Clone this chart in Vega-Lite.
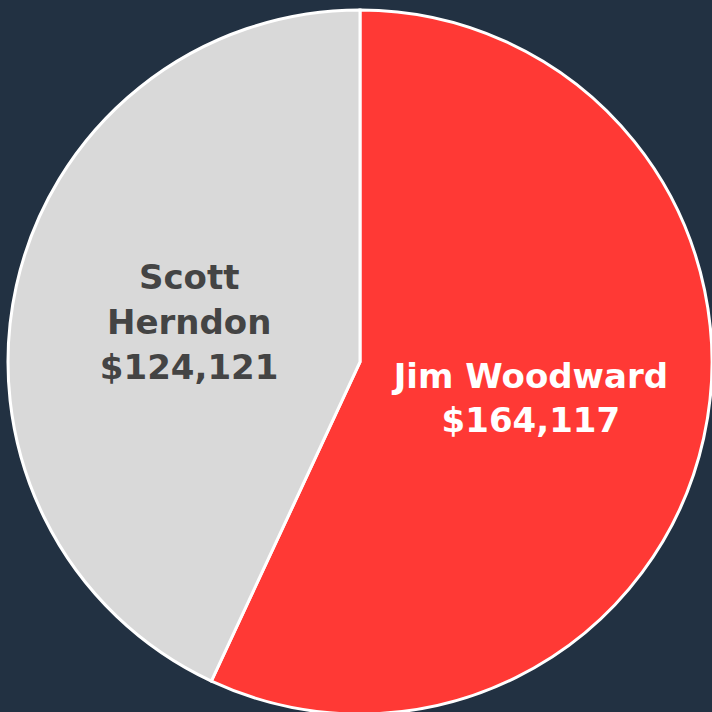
{
  "$schema": "https://vega.github.io/schema/vega-lite/v6.json",
  "width": 704,
  "height": 704,
  "autosize": {"type": "none"},
  "padding": {"left": 8, "top": 10, "right": 0, "bottom": 0},
  "background": "#223142",
  "config": {"view": {"stroke": null}},
  "data": {"values": [
    {"name": "Jim Woodward", "amount": 164117, "label": "Jim Woodward\n$164,117"},
    {"name": "Scott Herndon", "amount": 124121, "label": "Scott\nHerndon\n$124,121"}
  ]},
  "encoding": {
    "theta": {"field": "amount", "type": "quantitative", "stack": true},
    "order": {"field": "name", "sort": "ascending"}
  },
  "layer": [
    {
      "mark": {"type": "arc", "outerRadius": 352, "stroke": "#ffffff", "strokeWidth": 3},
      "encoding": {
        "color": {"field": "name", "type": "nominal", "scale": {"domain": ["Jim Woodward", "Scott Herndon"], "range": ["#ff3935", "#d9d9d9"]}, "legend": null}
      }
    },
    {
      "mark": {"type": "text", "radius": 175, "dy": -22, "font": "DejaVu Sans", "fontWeight": "bold", "fontSize": 34, "lineBreak": "\n", "lineHeight": 44, "align": "center", "baseline": "middle", "color": "#ffffff"},
      "encoding": {
        "text": {"condition": {"test": "datum.name === 'Jim Woodward'", "field": "label"}, "value": ""}
      }
    },
    {
      "mark": {"type": "text", "radius": 175, "dy": -45, "font": "DejaVu Sans", "fontWeight": "bold", "fontSize": 34, "lineBreak": "\n", "lineHeight": 45, "align": "center", "baseline": "middle", "color": "#444444"},
      "encoding": {
        "text": {"condition": {"test": "datum.name === 'Scott Herndon'", "field": "label"}, "value": ""}
      }
    }
  ]
}
